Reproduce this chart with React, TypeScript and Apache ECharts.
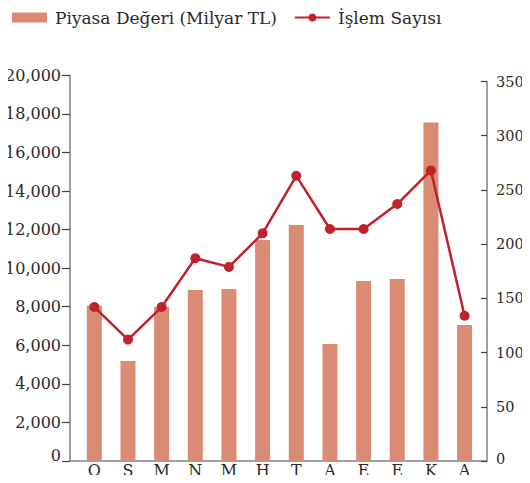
import React, { useEffect, useRef } from "react";
import * as echarts from "echarts";

const categories = ["O", "S", "M", "N", "M", "H", "T", "A", "E", "E", "K", "A"];
const marketValue = [8050, 5190, 7990, 8870, 8920, 11460, 12240, 6070, 9330, 9440, 17550, 7050];
const transactions = [142, 112, 142, 187, 179, 210, 263, 214, 214, 237, 268, 134];
const leftTicks = { min: 0, max: 20000, interval: 2000 };
const rightTicks = { min: 0, max: 350, interval: 50 };

const FONT = "DejaVu Serif";
const AXIS = "#808080";
const TEXT = "#2a2a2a";

export default function App() {
  const ref = useRef<HTMLDivElement>(null);
  useEffect(() => {
    if (!ref.current) return;
    const chart = echarts.init(ref.current, undefined, { renderer: "svg" });
    chart.setOption({
      animation: false,
      textStyle: { fontFamily: FONT },
      legend: {
        left: 7,
        top: 4,
        itemWidth: 35,
        itemHeight: 10,
        itemGap: 17,
        textStyle: { fontFamily: FONT, fontSize: 17, color: TEXT, padding: [0, 0, 0, 3] },
        data: [
          { name: "Piyasa Değeri (Milyar TL)", icon: "rect" },
          { name: "İşlem Sayısı" },
        ],
      },
      grid: [
        { left: 77.5, right: 48.6, top: 75.3, bottom: 22, outerBoundsMode: "none" },
        { left: 77.5, right: 48.6, top: 81.5, bottom: 22, outerBoundsMode: "none" },
        { left: 70, right: 43, top: 75.3, bottom: 22, outerBoundsMode: "none" },
      ],
      xAxis: [
        {
          type: "category",
          gridIndex: 0,
          data: categories,
          axisLine: { show: false },
          axisTick: { show: false },
          axisLabel: { fontFamily: FONT, fontSize: 16, color: TEXT, margin: 1 },
        },
        {
          type: "category",
          gridIndex: 1,
          data: categories,
          show: false,
        },
        {
          type: "value",
          gridIndex: 2,
          min: 0,
          max: 1,
          axisLine: { show: true, lineStyle: { color: AXIS, width: 1.5 } },
          axisTick: { show: false },
          axisLabel: { show: false },
          splitLine: { show: false },
        },
      ],
      yAxis: [
        {
          type: "value",
          gridIndex: 0,
          position: "left",
          offset: 7.5,
          min: leftTicks.min,
          max: leftTicks.max,
          interval: leftTicks.interval,
          axisLine: { show: true, lineStyle: { color: AXIS, width: 1.5 } },
          axisTick: { show: true, length: 8, lineStyle: { color: "#444", width: 1.2 } },
          axisLabel: {
            fontFamily: FONT,
            fontSize: 16,
            color: TEXT,
            margin: 9,
            formatter: (v: number) => (v === 0 ? "{z|0}" : v.toLocaleString("en-US")),
            rich: { z: { fontFamily: FONT, fontSize: 16, color: TEXT, padding: [0, 0, 11, 0] } },
          },
          splitLine: { show: false },
        },
        {
          type: "value",
          gridIndex: 1,
          position: "right",
          offset: 5.6,
          min: rightTicks.min,
          max: rightTicks.max,
          interval: rightTicks.interval,
          axisLine: { show: true, lineStyle: { color: AXIS, width: 1.5 } },
          axisTick: { show: true, inside: true, length: 6, lineStyle: { color: "#444", width: 1.2 } },
          axisLabel: {
            fontFamily: FONT,
            fontSize: 14.5,
            color: TEXT,
            margin: 9,
            formatter: (v: number) => (v === 0 ? "{z|0}" : String(v)),
            rich: { z: { fontFamily: FONT, fontSize: 14.5, color: TEXT, padding: [0, 0, 5, 0] } },
          },
          splitLine: { show: false },
        },
        {
          type: "value",
          gridIndex: 2,
          show: false,
          min: 0,
          max: 1,
        },
      ],
      series: [
        {
          name: "Piyasa Değeri (Milyar TL)",
          type: "bar",
          xAxisIndex: 0,
          yAxisIndex: 0,
          data: marketValue,
          barWidth: 15,
          itemStyle: { color: "#D98B73" },
        },
        {
          name: "İşlem Sayısı",
          type: "line",
          xAxisIndex: 1,
          yAxisIndex: 1,
          data: transactions,
          symbol: "circle",
          symbolSize: 10,
          lineStyle: { color: "#C1212B", width: 2.5 },
          itemStyle: { color: "#C1212B" },
        },
      ],
    });
    return () => chart.dispose();
  }, []);
  return <div ref={ref} style={{ width: 530, height: 483, margin: -8 }} />;
}
